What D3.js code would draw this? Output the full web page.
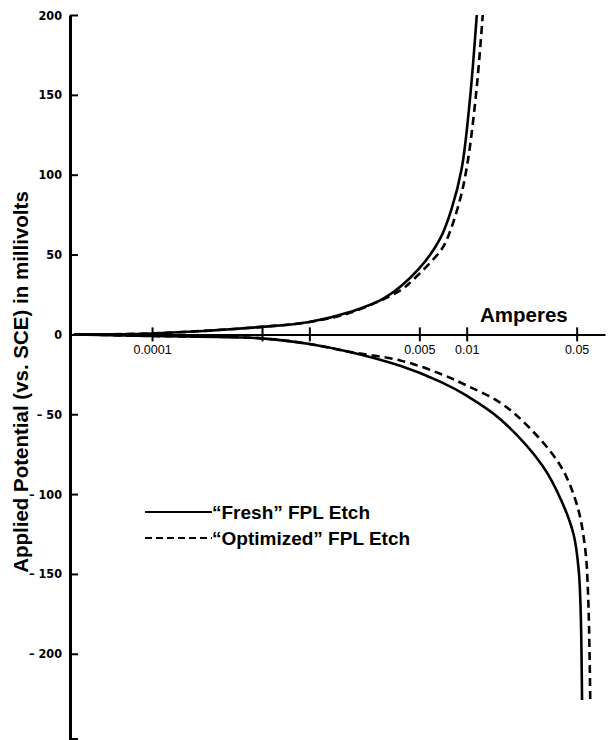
<!DOCTYPE html>
<meta charset="utf-8">
<style>
body { margin: 0; background: #fff; }
svg { display: block; }
.ytick text { font: bold 12.5px "Liberation Sans Narrow", "DejaVu Sans Condensed", sans-serif; }
.xtick text { font: 12.5px "Liberation Sans", Arial, sans-serif; }
.title { font: bold 20.5px "Liberation Sans", Arial, sans-serif; }
.legend { font: bold 19px "Liberation Sans", Arial, sans-serif; }
</style>
<svg width="608" height="740"></svg>
<script src="https://cdn.jsdelivr.net/npm/d3@7"></script>
<script>
// values (amperes, millivolts)
var freshUpAmps = [3.2e-5, 1e-4, 5e-4, 1e-3, 1.81e-3, 3.01e-3, 4.96e-3, 6.78e-3, 8.04e-3, 9.3e-3, 0.01047, 0.01159];
var freshUpMv   = [0, 0.6, 4.7, 7.8, 14, 22.8, 41, 60, 79, 104, 146.5, 200];
var optUpAmps   = [3.2e-5, 1e-4, 5e-4, 1e-3, 1.81e-3, 3.78e-3, 4.54e-3, 6.78e-3, 7.5e-3, 9.08e-3, 0.0102, 0.01159, 0.01265];
var optUpMv     = [0, 0.6, 4.7, 7.8, 13.5, 27.5, 34, 52, 59.6, 84.6, 109.5, 155, 200];
var freshDnAmps = [3.2e-5, 1e-4, 5e-4, 1e-3, 1.81e-3, 3.78e-3, 6.78e-3, 0.01, 0.0163, 0.0304, 0.0402, 0.0479, 0.0515, 0.053, 0.0541];
var freshDnMv   = [0, -1, -2.5, -6, -11, -19.7, -29.6, -38.4, -53, -82.4, -104.6, -125.6, -147.5, -172.6, -229];
var optDnAmps   = [3.2e-5, 1e-4, 5e-4, 1e-3, 1.81e-3, 3.78e-3, 6.78e-3, 0.01, 0.0163, 0.0242, 0.0393, 0.0503, 0.0566, 0.0592, 0.061];
var optDnMv     = [0, -1, -2.5, -6, -11, -16.3, -24.6, -32, -42.7, -57, -82, -107, -134, -165, -229];

var xTicks = [1e-4, 5e-4, 1e-3, 5e-3, 1e-2, 5e-2];
var xLabels = ["0.0001", "", "", "0.005", "0.01", "0.05"];
var yTicks = [-200, -150, -100, -50, 0, 50, 100, 150, 200];
var legendNames = ["\u201cFresh\u201d FPL Etch", "\u201cOptimized\u201d FPL Etch"];

var svg = d3.select("svg");

var x = d3.scaleLog().domain([3.01e-5, 0.0757]).range([70, 605]);
var y = d3.scaleLinear().domain([-254, 200]).range([740, 15]);

function zip(a, b) { return a.map(function(v, i) { return [v, b[i]]; }); }

// x axis (ticks cross the line)
var xAxis = svg.append("g")
    .attr("transform", "translate(0," + y(0) + ")")
    .call(d3.axisBottom(x).tickValues(xTicks).tickSizeOuter(0).tickSizeInner(7)
      .tickFormat(function(d, i) { return xLabels[i]; }));
xAxis.select(".domain").attr("stroke", "#000").attr("stroke-width", 2);
xAxis.selectAll(".tick").attr("class", "tick xtick");
xAxis.selectAll(".tick line").attr("y1", -7).attr("stroke-width", 2);
xAxis.selectAll(".tick text").attr("y", 11).attr("dy", "0.71em").attr("fill", "#000");

// y axis, ticks pointing inward
var yAxis = svg.append("g")
    .attr("transform", "translate(70,0)")
    .call(d3.axisLeft(y).tickValues(yTicks).tickSizeOuter(0).tickSizeInner(0).tickPadding(8)
      .tickFormat(function(d) { return d < 0 ? "\u2013 " + (-d) : d; }));
yAxis.select(".domain").attr("stroke", "#000").attr("stroke-width", 3);
yAxis.selectAll(".tick").attr("class", "tick ytick");
yAxis.selectAll(".tick line").attr("x1", 0).attr("x2", 8).attr("stroke-width", 2);
yAxis.selectAll(".tick text").attr("fill", "#000");
yAxis.append("line").attr("x1", 0).attr("x2", 8)
    .attr("y1", y.range()[0] - 1).attr("y2", y.range()[0] - 1)
    .attr("stroke", "#000").attr("stroke-width", 2);

// curves
var line = d3.line()
    .x(function(d) { return x(d[0]); })
    .y(function(d) { return y(d[1]); })
    .curve(d3.curveCatmullRom.alpha(0.5));

var curves = [
  {pts: zip(optUpAmps, optUpMv), dash: "8,5"},
  {pts: zip(optDnAmps, optDnMv), dash: "8,5"},
  {pts: zip(freshUpAmps, freshUpMv), dash: null},
  {pts: zip(freshDnAmps, freshDnMv), dash: null}
];
svg.selectAll("path.curve").data(curves).enter().append("path")
    .attr("class", "curve")
    .attr("d", function(d) { return line(d.pts); })
    .attr("fill", "none")
    .attr("stroke", "#000")
    .attr("stroke-width", 2.6)
    .attr("stroke-dasharray", function(d) { return d.dash; });

// titles
svg.append("text").attr("class", "title")
    .attr("x", 480).attr("y", 322)
    .text("Amperes");
svg.append("text").attr("class", "title")
    .attr("transform", "translate(28,382) rotate(-90)")
    .attr("text-anchor", "middle")
    .text("Applied Potential (vs. SCE) in millivolts");

// legend
var leg = svg.append("g").attr("transform", "translate(145,512)");
var items = leg.selectAll("g").data(legendNames).enter().append("g")
    .attr("transform", function(d, i) { return "translate(0," + i * 26 + ")"; });
items.append("line")
    .attr("x1", 0).attr("x2", 67)
    .attr("stroke", "#000").attr("stroke-width", 2)
    .attr("stroke-dasharray", function(d, i) { return i ? "7,4" : null; });
items.append("text").attr("class", "legend")
    .attr("x", 67).attr("y", 7)
    .text(function(d) { return d; });
</script>
